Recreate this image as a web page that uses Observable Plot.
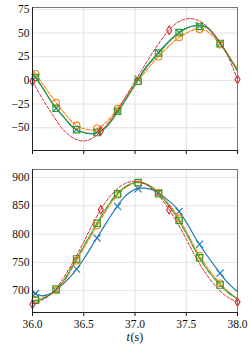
<!DOCTYPE html>
<html><head><meta charset="utf-8">
<script src="https://cdn.jsdelivr.net/npm/d3@7"></script>
<script src="https://cdn.jsdelivr.net/npm/@observablehq/plot@0.6"></script>
<style>
body{margin:0;background:#fff;}
#chart svg{display:block;}
</style></head><body><div id="chart"></div>
<script>
// time grid for lines, and marker times
const t = [36.0,36.1,36.2,36.3,36.4,36.5,36.6,36.7,36.8,36.9,37.0,37.1,37.2,37.3,37.4,37.5,37.6,37.7,37.8,37.9,38.0];
const tMarks = [36.03,36.23,36.43,36.63,36.83,37.03,37.23,37.43,37.63,37.83];
const tMarksRed = [36.0,36.667,37.333,38.0];

// top panel
const topBlue   = [8,-8,-25,-38,-50,-55,-56,-51,-38,-22,-4,13,26,38,48,55,58,56,44,28,10];
const topOrange = [11,-4,-19,-33,-45,-51,-52,-46,-34,-19,-4,9,22,33,43,50,54,52,42,28,12];
const topGreen  = [8,-8,-25,-38,-50,-55,-56,-51,-38,-22,-5,12,25,37,48,55,58,56,44,28,10];
const topRed    = [-1,-20,-37,-52,-61,-64,-60,-50,-36,-19,-1,17,34,49,60,65,64,57,45,27,1];
const topBlueM   = [3.5,-29.5,-52,-54.5,-32.5,1.5,29.7,50.5,57.5,39];
const topOrangeM = [7,-23.4,-47.5,-50.5,-29.7,-0.5,25,45.3,54,37.7];
const topGreenM  = [3.2,-29.5,-52,-55,-32.5,-1,29,50.5,57,39];
const topRedM    = [-1,-53.5,53,1];

// bottom panel
const botBlue   = [697,691,697,712,731,756,785,814,842,866,879,881,876,863,847,821,790,763,738,715,698];
const botOrange = [682,687,696,714,744,775,806,836,863,881,890,889,879,860,836,805,771,742,719,700,686];
const botGreen  = [681,686,697,717,747,779,810,840,866,883,891,889,877,857,832,801,767,738,716,698,685];
const botRed    = [676,684,697,722,752,786,822,853,875,889,893,888,874,852,824,791,757,728,705,689,680];
const botBlueM   = [695,701,738,793,849,880,873,840,782,731];
const botOrangeM = [684,701,753,815,869,890,873,828,762,713];
const botGreenM  = [683,703,756,819,871,891,871,824,758,710];
const botRedM    = [676,843,843,680];

const xTicks = [36.0,36.5,37.0,37.5,38.0];
const topTicks = [-50,-25,0,25,50,75];
const botTicks = [700,750,800,850,900];

const colors = {blue:"#1f77b4", orange:"#ff7f0e", green:"#2ca02c", red:"#d62728"};

const thinDiamond = {
  draw(ctx, size) {
    const r = Math.sqrt(size / Math.PI);
    const hh = r * 1.2, hw = r * 0.72;
    ctx.moveTo(0, -hh); ctx.lineTo(hw, 0); ctx.lineTo(0, hh); ctx.lineTo(-hw, 0); ctx.closePath();
  }
};

function rows(ts, vs) { return ts.map((x, i) => ({t: x, v: vs[i]})); }

function seriesMarks(lineV, markT, markV, color, dash, symbol, r, width) {
  return [
    Plot.line(rows(t, lineV), {x: "t", y: "v", stroke: color, strokeWidth: width, strokeDasharray: dash, curve: "catmull-rom", clip: true}),
    Plot.dot(rows(markT, markV), {x: "t", y: "v", stroke: color, fill: "none", strokeWidth: 1.1, symbol, r, clip: false})
  ];
}

function panel(opts) {
  const {height, marginTop, marginBottom, domain, ticks, labels, data} = opts;
  return Plot.plot({
    width: 252, height, marginTop, marginBottom, marginLeft: 32, marginRight: 15,
    style: {fontFamily: "'Liberation Serif', serif", fontSize: "11.5px", color: "#111", background: "#fff"},
    x: {domain: [36, 38], ticks: xTicks, tickSize: 4, tickPadding: 3, tickFormat: labels ? d3.format(".1f") : () => "", label: null},
    y: {domain, ticks, tickSize: 0, tickPadding: 3, label: null},
    marks: [
      Plot.gridX(xTicks, {stroke: "#e2e2e2", strokeOpacity: 1}),
      Plot.gridY(ticks, {stroke: "#e2e2e2", strokeOpacity: 1}),
      ...seriesMarks(data[0], tMarks, data[4], colors.blue, null, "times", 3.3, 1.2),
      ...seriesMarks(data[1], tMarks, data[5], colors.orange, "3.5,1.6", "circle", 3.3, 1.1),
      ...seriesMarks(data[2], tMarks, data[6], colors.green, "6,1.5,1,1.5", "square", 3.6, 1.2),
      ...seriesMarks(data[3], tMarksRed, data[7], colors.red, "3,1.8", thinDiamond, 3.5, 1.0),
      Plot.frame({stroke: "#777", strokeWidth: 1}),
      Plot.frame({anchor: "left", stroke: "#222", strokeWidth: 1}),
      Plot.frame({anchor: "bottom", stroke: "#222", strokeWidth: 1})
    ]
  });
}

const topPanel = panel({height: 160, marginTop: 7, marginBottom: 10, domain: [-74, 77], ticks: topTicks, labels: false,
  data: [topBlue, topOrange, topGreen, topRed, topBlueM, topOrangeM, topGreenM, topRedM]});
const botPanel = panel({height: 188, marginTop: 9, marginBottom: 36, domain: [661.5, 914], ticks: botTicks, labels: true,
  data: [botBlue, botOrange, botGreen, botRed, botBlueM, botOrangeM, botGreenM, botRedM]});

const chart = document.getElementById("chart");
chart.appendChild(topPanel);
chart.appendChild(botPanel);

// axis label "t(s)" with italic t, as two adjacent texts
const g = d3.select(botPanel).append("g")
  .attr("font-family", "'Liberation Serif', serif")
  .attr("font-size", "12px")
  .attr("font-weight", "normal")
  .attr("text-anchor", "start")
  .attr("fill", "#111");
const tPart = g.append("text").attr("text-anchor", "start").attr("font-style", "italic").attr("y", 181).text("t");
const sPart = g.append("text").attr("text-anchor", "start").attr("y", 181).text("(s)");
const w1 = tPart.node().getComputedTextLength();
const w2 = sPart.node().getComputedTextLength();
const x0 = 134.8 - (w1 + w2 + 0.8) / 2;
tPart.attr("x", x0);
sPart.attr("x", x0 + w1 + 0.8);
</script>
</body></html>
